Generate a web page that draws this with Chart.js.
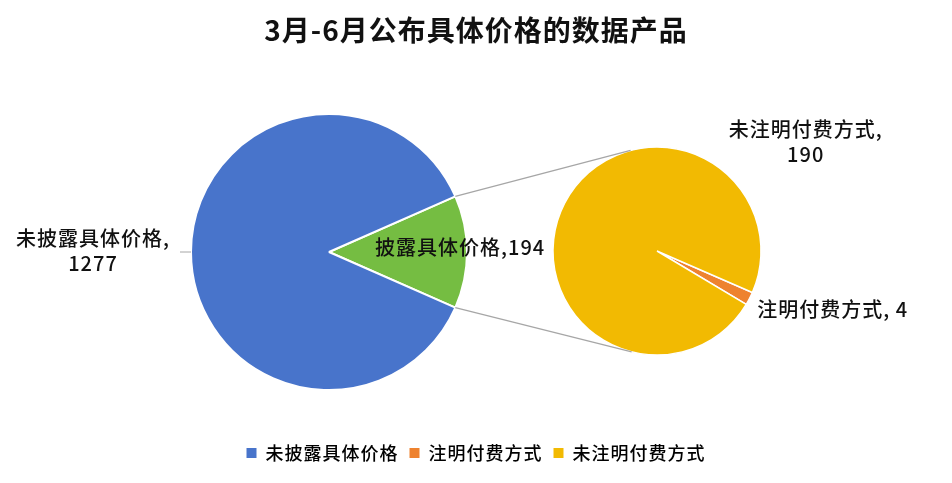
<!DOCTYPE html>
<html>
<head>
<meta charset="utf-8">
<script src="https://cdn.jsdelivr.net/npm/chart.js@4.4.0/dist/chart.umd.min.js"></script>
<style>
  body { margin: 0; background: #fff; }
  #wrap { position: relative; width: 952px; height: 483px; }
  #wrap canvas { position: absolute; left: 0; top: 0; }
</style>
</head>
<body>
<div id="wrap">
  <canvas id="frame" width="952" height="483"></canvas>
  <canvas id="main" width="952" height="483"></canvas>
  <canvas id="sub" width="952" height="483"></canvas>
</div>
<script>
const chartTitle = '3月-6月公布具体价格的数据产品';
const mainLabels = ['披露具体价格', '未披露具体价格'];
const mainValues = [194, 1277];
const subLabels = ['注明付费方式', '未注明付费方式'];
const subValues = [4, 190];
const legendLabels = ['未披露具体价格', '注明付费方式', '未注明付费方式'];

const FONT = "'Noto Sans CJK SC', 'Noto Sans', sans-serif";
const C = { blue: '#4874CB', green: '#75BD42', orange: '#EE822F', yellow: '#F2BA02', line: '#A6A6A6', text: '#111' };
const mainColors = [C.green, C.blue];
const subColors = [C.orange, C.yellow];
const legendColors = [C.blue, C.orange, C.yellow];

// canvas letter spacing, set again after every resize/update
const spacing = px => ({
  id: 'spacing',
  beforeUpdate(chart) { chart.ctx.letterSpacing = px; },
  beforeDraw(chart) { chart.ctx.letterSpacing = px; }
});

function textStyle(ctx) {
  ctx.letterSpacing = '1px';
  ctx.font = `500 20px ${FONT}`;
  ctx.fillStyle = C.text;
  ctx.textBaseline = 'middle';
}

// title + legend only
new Chart(document.getElementById('frame'), {
  type: 'pie',
  data: { labels: legendLabels, datasets: [] },
  options: {
    responsive: false,
    animation: false,
    layout: { padding: { bottom: 11 } },
    plugins: {
      title: {
        display: true, text: chartTitle, color: C.text,
        font: { family: FONT, size: 28, weight: 'bold' },
        padding: { top: 14, bottom: 10 }
      },
      legend: {
        position: 'bottom',
        labels: {
          boxWidth: 10, boxHeight: 10, padding: 11, color: C.text,
          font: { family: FONT, size: 18, weight: 500 },
          generateLabels: () => legendLabels.map((t, i) => ({
            text: t, fillStyle: legendColors[i], strokeStyle: legendColors[i], lineWidth: 0, hidden: false, index: i
          }))
        }
      },
      tooltip: { enabled: false }
    }
  },
  plugins: [spacing('1px')]
});

const mainTotal = mainValues.reduce((a, b) => a + b, 0);

const mainLabelPlugin = {
  id: 'mainLabels',
  afterDatasetsDraw(chart) {
    const ctx = chart.ctx;
    const arcs = chart.getDatasetMeta(0).data;
    ctx.save();
    textStyle(ctx);
    const g = arcs[0];
    const gm = (g.startAngle + g.endAngle) / 2;
    ctx.textAlign = 'center';
    ctx.fillText(`${mainLabels[0]},${mainValues[0]}`,
      g.x + Math.cos(gm) * g.outerRadius * 0.95, g.y + Math.sin(gm) * g.outerRadius * 0.95 - 5);

    const b = arcs[1];
    const bm = (b.startAngle + b.endAngle) / 2;
    const ux = Math.cos(bm), uy = Math.sin(bm);
    ctx.strokeStyle = C.line;
    ctx.lineWidth = 1;
    ctx.beginPath();
    ctx.moveTo(b.x + ux * b.outerRadius, b.y + uy * b.outerRadius);
    ctx.lineTo(b.x + ux * (b.outerRadius + 11), b.y + uy * (b.outerRadius + 11));
    ctx.stroke();
    const line1 = `${mainLabels[1]},`;
    const w = ctx.measureText(line1).width;
    const cx = b.x + ux * (b.outerRadius + 21) - w / 2;
    const cy = b.y + uy * (b.outerRadius + 21);
    ctx.fillText(line1, cx, cy - 14);
    ctx.fillText(String(mainValues[1]), cx, cy + 11);
    ctx.restore();
  }
};

const mainChart = new Chart(document.getElementById('main'), {
  type: 'pie',
  data: {
    labels: mainLabels,
    datasets: [{ data: mainValues, backgroundColor: mainColors, borderColor: '#fff', borderWidth: 2 }]
  },
  options: {
    responsive: false,
    animation: false,
    radius: 138,
    rotation: 90 - (mainValues[0] / mainTotal) * 180,
    layout: { padding: { left: 179, right: 473, top: 102, bottom: 81 } },
    plugins: { legend: { display: false }, tooltip: { enabled: false } }
  },
  plugins: [mainLabelPlugin]
});

const subPlugin = {
  id: 'subLabels',
  afterDatasetsDraw(chart) {
    const ctx = chart.ctx;
    const arcs = chart.getDatasetMeta(0).data;
    const o = arcs[0];
    const cx = o.x, cy = o.y, r = o.outerRadius;
    ctx.save();

    // connectors from the disclosed slice corners to tangents of this pie
    const g = mainChart.getDatasetMeta(0).data[0];
    const corners = [g.startAngle, g.endAngle].map(a => ({
      x: g.x + Math.cos(a) * g.outerRadius, y: g.y + Math.sin(a) * g.outerRadius
    }));
    ctx.strokeStyle = C.line;
    ctx.lineWidth = 1.3;
    corners.forEach(p => {
      const d = Math.hypot(p.x - cx, p.y - cy);
      const base = Math.atan2(p.y - cy, p.x - cx);
      const off = Math.acos(r / d);
      const c = [base + off, base - off].map(a => ({ x: cx + Math.cos(a) * r, y: cy + Math.sin(a) * r }));
      const t = p.y < cy ? (c[0].y < c[1].y ? c[0] : c[1]) : (c[0].y > c[1].y ? c[0] : c[1]);
      ctx.beginPath();
      ctx.moveTo(p.x, p.y);
      ctx.lineTo(t.x, t.y);
      ctx.stroke();
    });

    textStyle(ctx);
    ctx.textAlign = 'center';
    ctx.fillText(`${subLabels[1]},`, cx + r * 1.43, cy - 122);
    ctx.fillText(String(subValues[1]), cx + r * 1.43, cy - 97);

    ctx.textAlign = 'left';
    ctx.fillText(`${subLabels[0]}, ${subValues[0]}`,
      cx + Math.cos(o.endAngle) * r + 11, cy + Math.sin(o.endAngle) * r + 5);
    ctx.restore();
  }
};

new Chart(document.getElementById('sub'), {
  type: 'pie',
  data: {
    labels: subLabels,
    datasets: [{ data: subValues, backgroundColor: subColors, borderColor: '#fff', borderWidth: 1.5 }]
  },
  options: {
    responsive: false,
    animation: false,
    radius: 104,
    rotation: 113.5,
    layout: { padding: { left: 537, right: 175, top: 131, bottom: 112 } },
    plugins: { legend: { display: false }, tooltip: { enabled: false } }
  },
  plugins: [subPlugin]
});
</script>
</body>
</html>
